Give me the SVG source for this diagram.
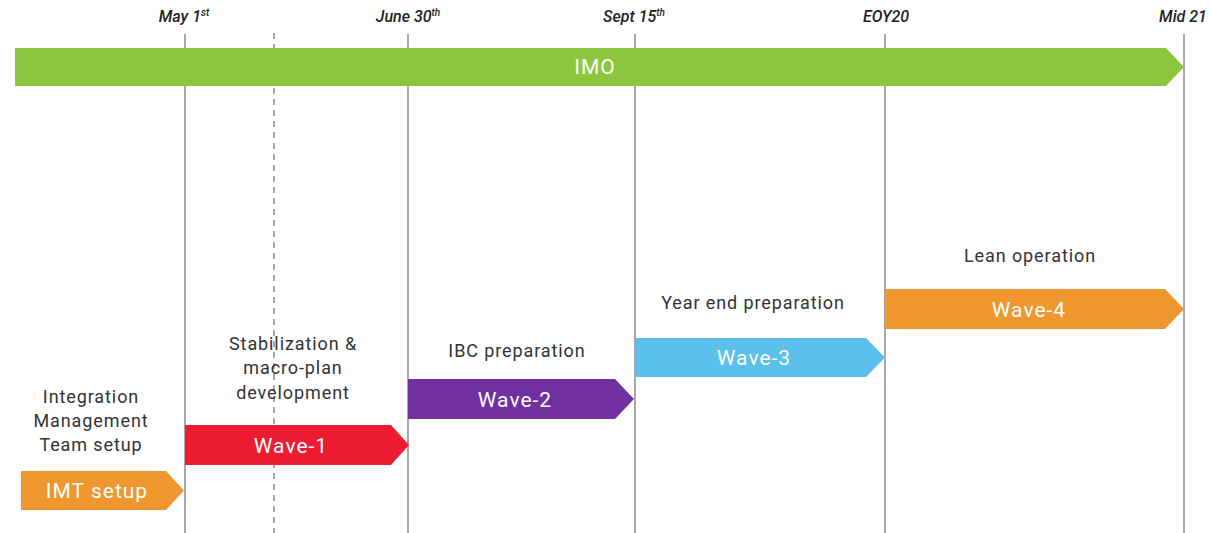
<svg xmlns="http://www.w3.org/2000/svg" width="1211" height="533" viewBox="0 0 1211 533">
<style>
.vl{stroke:#6d6d6d;stroke-width:1.2;fill:none}
.dl{stroke:#6d6d6d;stroke-width:1.2;stroke-dasharray:6,5;fill:none}
.date{font-family:Roboto,"Liberation Sans",sans-serif;font-style:italic;font-weight:500;font-size:16px;fill:#222;text-anchor:middle}
.bt{font-family:Roboto,"Liberation Sans",sans-serif;font-weight:400;font-size:21px;fill:#fff;text-anchor:middle;dominant-baseline:central;letter-spacing:1px}
.lb{font-family:Roboto,"Liberation Sans",sans-serif;font-size:18px;fill:#333;text-anchor:middle;letter-spacing:0.9px}
</style>
<rect width="1211" height="533" fill="#fff"/>
<g id="connectors">
<line class="vl" x1="185" y1="34" x2="185" y2="533"/>
<line class="vl" x1="408" y1="34" x2="408" y2="533"/>
<line class="vl" x1="635" y1="34" x2="635" y2="533"/>
<line class="vl" x1="885" y1="34" x2="885" y2="533"/>
<line class="vl" x1="1184" y1="34" x2="1184" y2="533"/>
<line class="dl" x1="274" y1="33" x2="274" y2="533"/>
</g>
<g id="dates">
<text class="date" x="184" y="22">May 1<tspan font-size="10" dy="-6">st</tspan></text>
<text class="date" x="408" y="22">June 30<tspan font-size="10" dy="-6">th</tspan></text>
<text class="date" x="634" y="22">Sept 15<tspan font-size="10" dy="-6">th</tspan></text>
<text class="date" x="886" y="22">EOY20</text>
<text class="date" x="1183" y="22">Mid 21</text>
</g>
<g id="imo">
<polygon points="15,48 1166,48 1184,67 1166,86 15,86" fill="#8cc63f"/>
<text class="bt" x="595" y="67">IMO</text>
</g>
<g id="imt">
<polygon points="21,471 166,471 184,490.5 166,510 21,510" fill="#f0962e"/>
<text class="bt" x="97" y="491">IMT setup</text>
<text class="lb" x="91" y="403">Integration</text>
<text class="lb" x="91" y="427">Management</text>
<text class="lb" x="91" y="451">Team setup</text>
</g>
<g id="wave1">
<polygon points="185,425 391,425 409,445 391,465 185,465" fill="#ed1c33"/>
<text class="bt" x="291" y="446">Wave-1</text>
<text class="lb" x="293" y="350">Stabilization &amp;</text>
<text class="lb" x="293" y="374">macro-plan</text>
<text class="lb" x="293" y="399">development</text>
</g>
<g id="wave2">
<polygon points="408,379 615,379 634,399 615,419 408,419" fill="#7030a0"/>
<text class="bt" x="515" y="400">Wave-2</text>
<text class="lb" x="517" y="357">IBC preparation</text>
</g>
<g id="wave3">
<polygon points="635,338 866,338 885,357.5 866,377 635,377" fill="#5bc0eb"/>
<text class="bt" x="754" y="358">Wave-3</text>
<text class="lb" x="753" y="309">Year end preparation</text>
</g>
<g id="wave4">
<polygon points="885,289 1165,289 1184,309 1165,329 885,329" fill="#f0962e"/>
<text class="bt" x="1029" y="310">Wave-4</text>
<text class="lb" x="1030" y="262">Lean operation</text>
</g>
</svg>
